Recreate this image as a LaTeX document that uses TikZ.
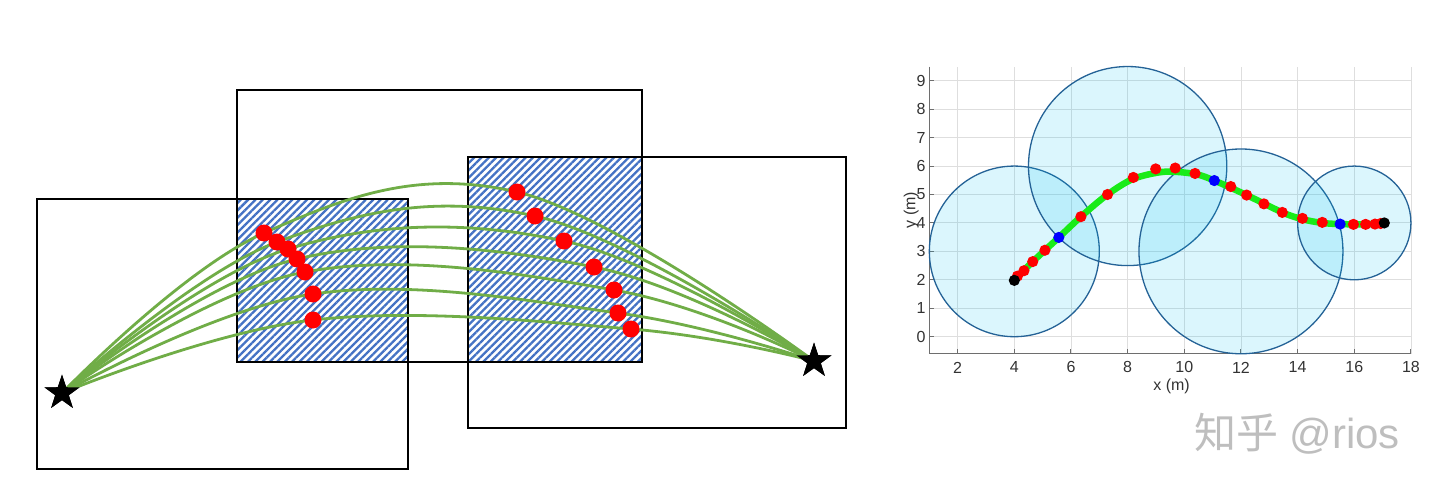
\documentclass[tikz,border=0pt]{standalone}
\usepackage{fontspec}
\setmainfont{Liberation Sans}
\newfontfamily\cjkfont{Noto Sans CJK SC}
\usetikzlibrary{shapes.geometric,patterns.meta}
\definecolor{hatchblue}{RGB}{68,114,196}
\definecolor{routegreen}{RGB}{112,173,71}
\definecolor{zonefill}{RGB}{0,190,240}
\definecolor{zoneedge}{RGB}{36,98,150}
\definecolor{trackgreen}{RGB}{25,235,25}
\definecolor{labelgray}{RGB}{50,50,50}
\definecolor{axisgray}{RGB}{110,110,110}
\definecolor{gridgray}{RGB}{222,222,222}
\definecolor{markgray}{RGB}{190,190,190}

\begin{document}
\begin{tikzpicture}[
    x=1pt, y=-1pt,
    box/.style={draw=black, line width=1.7pt},
    hatched/.style={pattern={Lines[angle=45, distance=5.2pt, line width=2.3pt]}, pattern color=hatchblue},
    goalstar/.style={star, star points=5, star point ratio=2.6, fill=black, inner sep=0pt, minimum size=37pt},
    waypoint/.style={circle, fill=red, inner sep=0pt, minimum size=17pt},
    route/.style={routegreen, line width=2.8pt},
    gridline/.style={gridgray, line width=0.9pt},
    axisline/.style={axisgray, line width=1pt},
    ticklabel/.style={text=labelgray, font=\fontsize{16}{19}\selectfont, inner sep=0pt},
    zone/.style={fill=zonefill, fill opacity=0.14, draw=zoneedge, draw opacity=1, line width=1.3pt},
    track/.style={trackgreen, line width=6.5pt},
    watermark/.style={text=markgray, font=\fontsize{42}{48}\selectfont, inner sep=0pt}
]
    \useasboundingbox (0,0) rectangle (1440,492);

    % left: overlapping windows
    \fill[hatched] (237,199) rectangle (408,362);
    \fill[hatched] (468,157) rectangle (642,362);
    \draw[box] (37,199) rectangle (408,469);
    \draw[box] (237,90) rectangle (642,362);
    \draw[box] (468,157) rectangle (846,428);

    \node[goalstar] (start) at (62,393) {};
    \node[goalstar] (goal) at (814,361) {};

    \coordinate (p1) at (264,233); \coordinate (q1) at (517,192);
    \coordinate (p2) at (277,242); \coordinate (q2) at (535,216);
    \coordinate (p3) at (288,249); \coordinate (q3) at (564,241);
    \coordinate (p4) at (297,259); \coordinate (q4) at (594,267);
    \coordinate (p5) at (305,272); \coordinate (q5) at (614,290);
    \coordinate (p6) at (313,294); \coordinate (q6) at (618,313);
    \coordinate (p7) at (313,320); \coordinate (q7) at (631,329);

    \foreach \k in {1,...,7}
        \draw[route] plot[smooth, tension=0.65] coordinates {(start.center) (p\k) (q\k) (goal.center)};
    \foreach \k in {1,...,7} {
        \node[waypoint] (lp\k) at (p\k) {};
        \node[waypoint] (rq\k) at (q\k) {};
    }
    \node[goalstar] at (start.center) {};
    \node[goalstar] at (goal.center) {};

    % right: corridor plot
    \begin{scope}[shift={(901,336.7)}, x=28.33pt, y=28.44pt]
        \foreach \gx in {2,4,...,18}
            \draw[gridline] (\gx,-0.6) -- (\gx,9.5);
        \foreach \gy in {0,...,9}
            \draw[gridline] (1,\gy) -- (18,\gy);
        \draw[axisline] (1,9.5) -- (1,-0.6) -- (18,-0.6);
        \foreach \gx in {2,4,...,18} {
            \draw[axisline] (\gx,-0.6) -- ++(0,0.17);
            \node[ticklabel] (xt\gx) at (\gx,-1.08) {\gx};
        }
        \foreach \gy in {0,...,9} {
            \draw[axisline] (1,\gy) -- ++(0.17,0);
            \node[ticklabel, anchor=east] (yt\gy) at (0.87,\gy) {\gy};
        }
        \node[ticklabel] (xlab) at (9.55,-1.74) {x (m)};
        \node[ticklabel, rotate=90] (ylab) at (0.36,4.45) {y (m)};

        \draw[zone] (4,3) circle[radius=3];
        \draw[zone] (8,6) circle[radius=3.5];
        \draw[zone] (12,3) circle[radius=3.6];
        \draw[zone] (16,4) circle[radius=2];

        \draw[track] plot[smooth] coordinates {(4,2) (4.65,2.64) (5.57,3.49) (6.35,4.22) (7.29,5.0)
            (8.2,5.55) (9.3,5.8) (10.38,5.72) (11.06,5.49) (12.2,4.98) (13.46,4.37) (14.17,4.13)
            (14.87,4.0) (15.5,3.96) (16.4,3.95) (17.06,4.0)};
        \foreach \tx/\ty in {4.11/2.13, 4.34/2.32, 4.65/2.64, 5.08/3.04, 6.35/4.22, 7.29/5.0,
            8.2/5.6, 8.99/5.9, 9.68/5.93, 10.38/5.74, 11.64/5.28, 12.2/4.98, 12.81/4.67,
            13.46/4.37, 14.17/4.16, 14.87/4.02, 15.97/3.95, 16.4/3.95, 16.73/3.96, 16.93/3.98}
            \fill[red] (\tx,\ty) circle[radius=5.6pt];
        \foreach \tx/\ty in {5.57/3.49, 11.06/5.49, 15.5/3.96}
            \fill[blue] (\tx,\ty) circle[radius=5.6pt];
        \fill[black] (4,1.98) circle[radius=5.6pt];
        \fill[black] (17.06,4.0) circle[radius=5.6pt];
    \end{scope}

    \node[watermark] (mark) at (1297,434) {{\cjkfont 知乎} @rios};
\end{tikzpicture}
\end{document}
